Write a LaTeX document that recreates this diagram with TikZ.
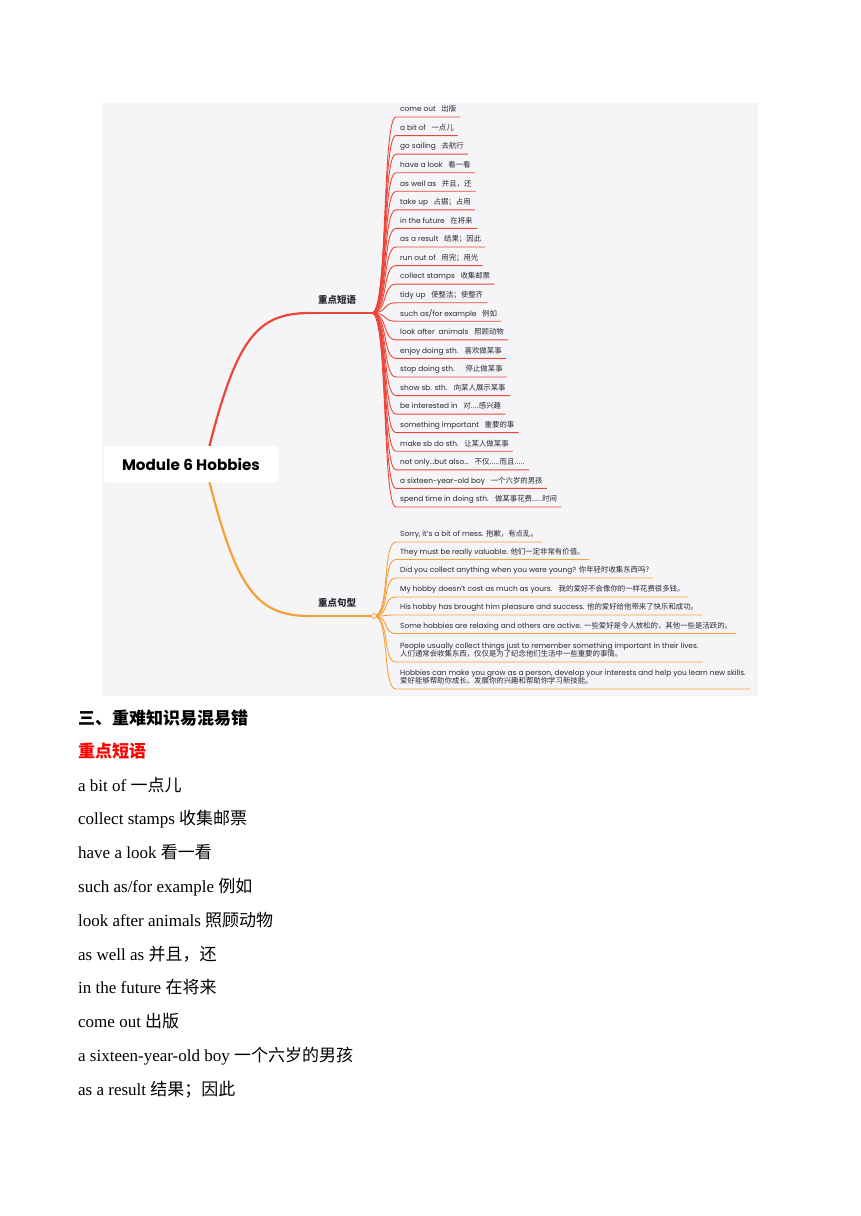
\documentclass[tikz,border=0pt]{standalone}
\usepackage{fontspec}
\setmainfont{Liberation Serif}
\newfontfamily\cjk{Noto Sans CJK SC}
\newfontfamily\mapfont{Poppins}
\newcommand\zh[1]{{\cjk #1}}
\newcommand\zhp[1]{\enspace{\cjk #1}}
\newcommand\twoline[2]{\vbox{\hbox{#1}\hbox{#2}}}
\newcommand\threedots{...}
\newcommand\fourdots{....}
\newcommand\fivedots{.....}
\definecolor{mapbg}{RGB}{245,245,247}
\definecolor{redbr}{RGB}{236,70,58}
\definecolor{orbr}{RGB}{247,160,58}
\definecolor{maptext}{RGB}{40,40,50}
\tikzset{
  phrase/.style={anchor=south west,inner xsep=4pt,inner ysep=2.5pt,text depth=2.5pt,
    font=\mapfont\fontsize{7.4}{8.5}\selectfont,text=maptext},
  redline/.style={draw=redbr,line width=.9pt},
  orline/.style={draw=orbr,line width=.9pt},
  rootbox/.style={fill=white,rounded corners=3pt,minimum width=174pt,minimum height=36pt,
    font=\mapfont\bfseries\fontsize{15.2}{17}\selectfont},
  brlabel/.style={font=\cjk\bfseries\fontsize{9.5}{11}\selectfont,text=maptext},
  bodytxt/.style={anchor=base west,inner sep=0pt,font=\fontsize{17}{20}\selectfont}
}
\begin{document}
\begin{tikzpicture}[x=1pt,y=-1pt]
\useasboundingbox (0,0) rectangle (860,1216);
\fill[mapbg] (102,103) rectangle (758,696);
% mind map
\coordinate (hubR) at (372,313);
\coordinate (hubO) at (374,616);
\node[rootbox] (root) at (191,464) {Module 6 Hobbies};
\coordinate (endR) at (310,313);
\coordinate (endO) at (310,616);
\draw[redbr,line width=2.2pt] ([xshift=14pt]root.center) .. controls (235,340) and (255,313) .. (endR);
\draw[redbr,line width=1.4pt] (endR) -- (hubR);
\draw[orbr,line width=2.2pt] ([xshift=14pt]root.center) .. controls (235,588) and (255,616) .. (endO);
\draw[orbr,line width=1.4pt] (endO) -- (hubO);
\node[rootbox] at (root) {Module 6 Hobbies};
\node[brlabel] (lblR) at (337,300) {重点短语};
\node[brlabel] (lblO) at (337,603) {重点句型};
\foreach \t [count=\i] in {{come out \zhp{出版}},{a bit of \zhp{一点儿}},{go sailing \zhp{去航行}},
  {have a look \zhp{看一看}},{as well as \zhp{并且，还}},{take up \zhp{占据；占用}},
  {in the future \zhp{在将来}},{as a result \zhp{结果；因此}},{run out of \zhp{用完；用光}},
  {collect stamps \zhp{收集邮票}},{tidy up \zhp{使整洁；使整齐}},{such as/for example \zhp{例如}},
  {look after \ animals \zhp{照顾动物}},{enjoy doing sth. \zhp{喜欢做某事}},
  {stop doing sth.\quad\zhp{停止做某事}},{show sb. sth. \zhp{向某人展示某事}},
  {be interested in \zhp{对\fourdots 感兴趣}},{something important \zhp{重要的事}},
  {make sb do sth.\ \zhp{让某人做某事}},
  {not only\threedots but also\threedots\ \zhp{不仅\fivedots 而且\fivedots}},
  {a sixteen-year-old boy \zhp{一个六岁的男孩}},{spend time in doing sth. \zhp{做某事花费\fivedots 时间}}}{
  \node[phrase] (p\i) at (396,{117+18.57*(\i-1)}) {\t};
  \draw[redline] (hubR) .. controls +(16,0) and +(-14,0) .. (p\i.south west) -- (p\i.south east);
}
\foreach \uy/\t [count=\i] in {542/{Sorry, it’s a bit of mess. \zh{抱歉，有点乱。}},
  559.5/{They must be really valuable. \zh{他们一定非常有价值。}},
  578/{Did you collect anything when you were young? \zh{你年轻时收集东西吗?}},
  597/{My hobby doesn’t cost as much as yours. \zhp{我的爱好不会像你的一样花费很多钱。}},
  615/{His hobby has brought him pleasure and success. \zh{他的爱好给他带来了快乐和成功。}},
  633.5/{Some hobbies are relaxing and others are active. \zh{一些爱好是令人放松的，其他一些是活跃的。}},
  662/{\twoline{People usually collect things just to remember something important in their lives.}{\zh{人们通常会收集东西，仅仅是为了纪念他们生活中一些重要的事情。}}},
  689/{\twoline{Hobbies can make you grow as a person, develop your interests and help you learn new skills.}{\zh{爱好能够帮助你成长、发展你的兴趣和帮助你学习新技能。}}}}{
  \node[phrase] (s\i) at (396,\uy) {\t};
  \draw[orline] (hubO) .. controls +(16,0) and +(-14,0) .. (s\i.south west) -- (s\i.south east);
}
\draw[orbr,line width=.8pt,fill=mapbg] (hubO) circle (2.5pt);
% text below
\node[bodytxt,font=\cjk\bfseries\fontsize{17}{20}\selectfont] (head) at (78,724) {三、重难知识易混易错};
\node[bodytxt,font=\cjk\bfseries\fontsize{17}{20}\selectfont,text=red] (sub) at (78,757.5) {重点短语};
\foreach \t [count=\i] in {{a bit of \zh{一点儿}},{collect stamps \zh{收集邮票}},{have a look \zh{看一看}},
  {such as/for example \zh{例如}},{look after animals \zh{照顾动物}},{as well as \zh{并且，还}},
  {in the future \zh{在将来}},{come out \zh{出版}},{a sixteen-year-old boy \zh{一个六岁的男孩}},
  {as a result \zh{结果；因此}}}{
  \node[bodytxt] (b\i) at (78,{791+33.8*(\i-1)}) {\t};
}
\end{tikzpicture}
\end{document}
